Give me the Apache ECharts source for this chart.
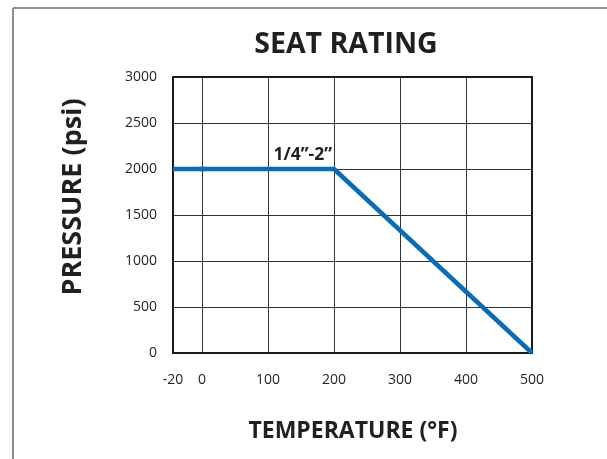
<!DOCTYPE html>
<html>
<head>
<meta charset="utf-8">
<script src="https://cdn.jsdelivr.net/npm/echarts@6/dist/echarts.min.js"></script>
<style>
html,body{margin:0;padding:0;background:#fff;}
#chart{width:607px;height:459px;}
</style>
</head>
<body>
<div id="chart"></div>
<script>
// ---- data ----
const temperatureF = [-20, 200, 500];
const pressurePsi = [2000, 2000, 0];
const sizeLabel = '1/4\u201D-2\u201D';
const xTicksLow = [-20, 0];
const xTicksHigh = [0, 100, 200, 300, 400, 500];
const yTicks = [0, 500, 1000, 1500, 2000, 2500, 3000];
const chartTitle = 'SEAT RATING';
const xTitle = 'TEMPERATURE (\u00B0F)';
const yTitle = 'PRESSURE (psi)';

const points = temperatureF.map((t, i) => [t, pressurePsi[i]]);

const FONT = 'Open Sans';
const TXT = '#231f20';
const AX = '#1a1a1a';
const GRID = '#333333';
const BLUE = '#0b6cb6';

const chart = echarts.init(document.getElementById('chart'));

const baseX = {
  type: 'value',
  axisTick: { show: false },
  axisLine: { show: true, onZero: false, lineStyle: { color: AX, width: 2 } },
};

chart.setOption({
  animation: false,
  backgroundColor: '#fff',
  title: [
    { text: chartTitle, left: 341, top: 25, textAlign: 'center',
      textStyle: { fontFamily: FONT, fontSize: 28.5, fontWeight: 'bold', color: TXT } },
    { text: xTitle, left: 348, top: 415, textAlign: 'center',
      textStyle: { fontFamily: FONT, fontSize: 23, fontWeight: 'bold', color: TXT } }
  ],
  grid: [
    { left: 173, top: 77, width: 29, height: 276 },
    { left: 202, top: 77, width: 330, height: 276 }
  ],
  xAxis: [
    Object.assign({}, baseX, {
      gridIndex: 0, position: 'bottom', min: xTicksLow[0], max: xTicksLow[xTicksLow.length - 1],
      interval: xTicksLow[1] - xTicksLow[0],
      splitLine: { show: false },
      axisLabel: { showMaxLabel: false, margin: 20, fontFamily: FONT, fontSize: 14, color: TXT,
                   formatter: v => String(v) }
    }),
    Object.assign({}, baseX, {
      gridIndex: 0, position: 'top', min: xTicksLow[0], max: xTicksLow[xTicksLow.length - 1],
      splitLine: { show: false }, axisLabel: { show: false }
    }),
    Object.assign({}, baseX, {
      gridIndex: 1, position: 'bottom', min: xTicksHigh[0], max: xTicksHigh[xTicksHigh.length - 1],
      interval: xTicksHigh[1] - xTicksHigh[0],
      splitLine: { show: true, lineStyle: { color: GRID, width: 1 } },
      axisLabel: { margin: 20, fontFamily: FONT, fontSize: 14, color: TXT, formatter: v => String(v) }
    }),
    Object.assign({}, baseX, {
      gridIndex: 1, position: 'top', min: xTicksHigh[0], max: xTicksHigh[xTicksHigh.length - 1],
      splitLine: { show: false }, axisLabel: { show: false }
    })
  ],
  yAxis: [
    {
      type: 'value', gridIndex: 0, position: 'left',
      min: yTicks[0], max: yTicks[yTicks.length - 1], interval: yTicks[1] - yTicks[0],
      axisTick: { show: false },
      axisLine: { show: true, onZero: false, lineStyle: { color: AX, width: 2 } },
      splitLine: { show: true, lineStyle: { color: GRID, width: 1 } },
      axisLabel: { margin: 16, fontFamily: FONT, fontSize: 14, color: TXT, formatter: v => String(v) },
      name: yTitle, nameLocation: 'middle', nameRotate: 90, nameGap: 86,
      nameTextStyle: { fontFamily: FONT, fontSize: 27, fontWeight: 'bold', color: TXT,
                       padding: [0, 0, 0, 36] }
    },
    {
      type: 'value', gridIndex: 1, position: 'right',
      min: yTicks[0], max: yTicks[yTicks.length - 1], interval: yTicks[1] - yTicks[0],
      axisTick: { show: false },
      axisLine: { show: true, onZero: false, lineStyle: { color: AX, width: 2 } },
      splitLine: { show: true, lineStyle: { color: GRID, width: 1 } },
      axisLabel: { show: false }
    }
  ],
  series: [
    {
      type: 'line', xAxisIndex: 0, yAxisIndex: 0, data: points,
      symbol: 'none', clip: true,
      lineStyle: { color: BLUE, width: 4.5, cap: 'butt' }
    },
    {
      type: 'line', xAxisIndex: 2, yAxisIndex: 1, data: points,
      symbol: 'none', clip: true,
      lineStyle: { color: BLUE, width: 4.5, cap: 'butt' },
      markPoint: {
        symbol: 'circle', symbolSize: 0, silent: true,
        data: [{
          coord: points[1],
          label: {
            show: true, formatter: sizeLabel, position: 'top', align: 'right',
            distance: 5, offset: [-2, 0],
            fontFamily: FONT, fontSize: 17.5, fontWeight: 'bold', color: TXT
          }
        }]
      }
    }
  ],
  graphic: [
    { type: 'line', shape: { x1: 13, y1: 8, x2: 607, y2: 8 }, style: { stroke: '#8c8c8c', lineWidth: 2 }, silent: true },
    { type: 'line', shape: { x1: 13, y1: 8, x2: 13, y2: 459 }, style: { stroke: '#8c8c8c', lineWidth: 2 }, silent: true }
  ]
});
</script>
</body>
</html>
